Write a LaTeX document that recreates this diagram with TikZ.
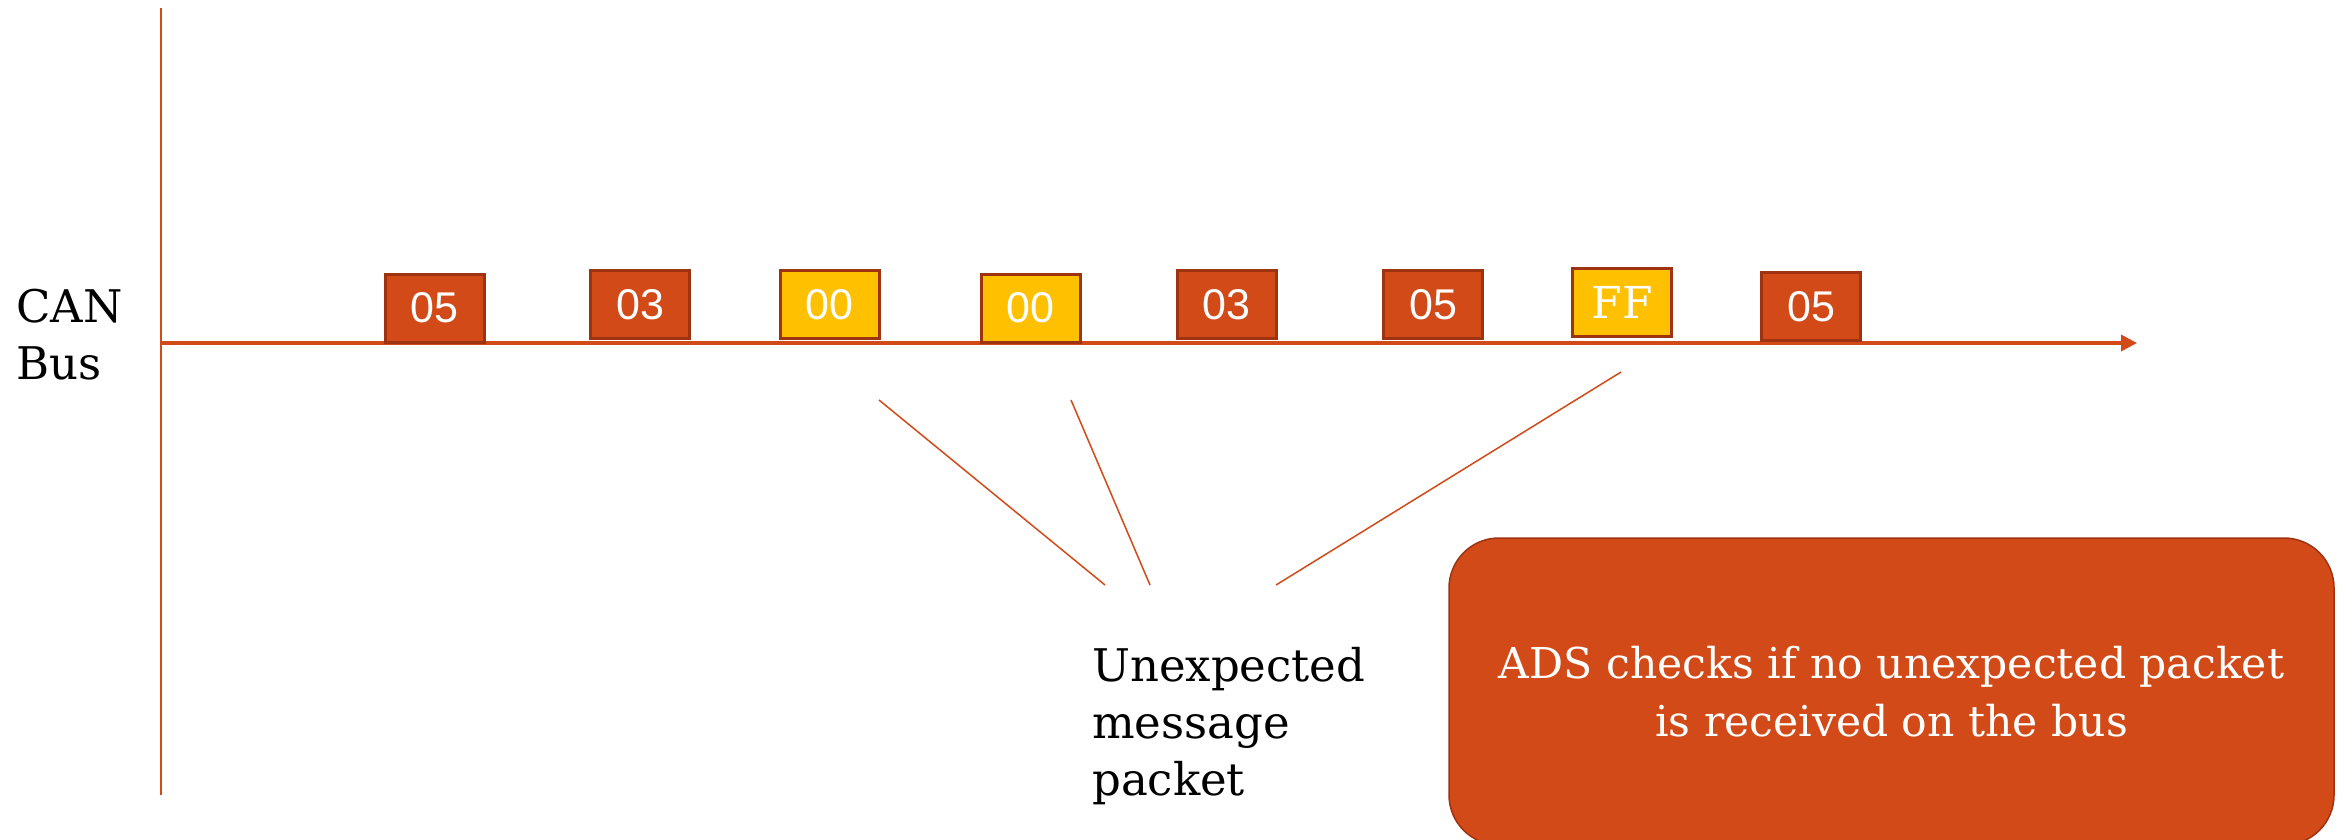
\documentclass[tikz,border=0pt]{standalone}
\usepackage{fontspec}
\setmainfont{DejaVu Serif}
\newfontfamily\digitfont{Liberation Sans}
\usetikzlibrary{arrows.meta}

\definecolor{rust}{HTML}{D24A18}
\definecolor{rustedge}{HTML}{9E3312}
\definecolor{amber}{HTML}{FFC000}

\tikzset{
  pkt/.style={draw=rustedge, line width=3pt, minimum width=99pt,
    minimum height=68pt, inner sep=0pt, text=white},
  redpkt/.style={pkt, fill=rust, font=\digitfont\fontsize{43}{50}\selectfont},
  amberpkt/.style={pkt, fill=amber, font=\digitfont\fontsize{43}{50}\selectfont},
  serifpkt/.style={pkt, fill=amber, font=\fontsize{44}{50}\selectfont},
  label/.style={inner sep=0pt, align=left, text=black,
    font=\fontsize{45}{57}\selectfont},
  pointer/.style={draw=rust, line width=1.5pt},
  axisline/.style={draw=rust, line width=2pt},
  busline/.style={draw=rust, line width=3.5pt,
    -{Triangle[length=16pt,width=16pt]}},
  notebox/.style={draw=rustedge, line width=1.5pt, fill=rust,
    rounded corners=50pt, minimum width=885pt, minimum height=307pt,
    inner sep=0pt, text=white, align=center,
    font=\fontsize{42.5}{58}\selectfont}
}

\begin{document}
\begin{tikzpicture}[x=1pt, y=-1pt]
  \clip (0,0) rectangle (2352,839);
  \fill[white] (0,0) rectangle (2352,839);

  % time axis and bus line
  \coordinate (axtop) at (160.7,8);
  \coordinate (axbot) at (160.7,795);
  \coordinate (busstart) at (160.7,343);
  \coordinate (busend) at (2137,343);
  \draw[axisline] (axtop) -- (axbot);
  \draw[busline] (busstart) -- (busend);

  % message packets on the bus
  \node[redpkt]   (p1) at (434.5,308)   {05};
  \node[redpkt]   (p2) at (640,304.5)   {03};
  \node[amberpkt] (p3) at (829.5,304.5) {00};
  \node[amberpkt] (p4) at (1030.5,308)  {00};
  \node[redpkt]   (p5) at (1226.5,304.5){03};
  \node[redpkt]   (p6) at (1433,304.5)  {05};
  \node[serifpkt] (p7) at (1622,302)    {FF};
  \node[redpkt]   (p8) at (1811,306.5)  {05};

  % labels (base anchor sits on the last line)
  \node[label, anchor=base west] (canlbl) at (16,379) {CAN\\Bus};
  \node[label, anchor=base west] (unexp) at (1092,795)
    {Unexpected\\message\\packet};

  % pointer lines towards the unexpected packets
  \coordinate (a1) at (879,400);
  \coordinate (b1) at (1105,585);
  \coordinate (a2) at (1071,400);
  \coordinate (b2) at (1150,585);
  \coordinate (a3) at (1621,372);
  \coordinate (b3) at (1276,585);
  \draw[pointer] (a1) -- (b1);
  \draw[pointer] (a2) -- (b2);
  \draw[pointer] (a3) -- (b3);

  % detection note
  \node[notebox] (note) at (1891.5,691.5)
    {ADS checks if no unexpected packet\\is received on the bus};
\end{tikzpicture}
\end{document}
